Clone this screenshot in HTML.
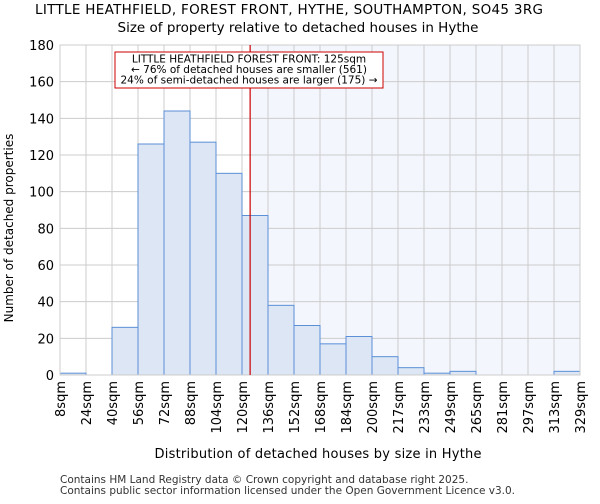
<!DOCTYPE html>
<html><head><meta charset="utf-8"><style>
body{margin:0;background:#fff;font-family:"DejaVu Sans","Liberation Sans",sans-serif;}
</style></head><body>
<svg width="600" height="500" xmlns="http://www.w3.org/2000/svg" font-family="DejaVu Sans, Liberation Sans, sans-serif">
<text x="289" y="14" font-size="13.5" text-anchor="middle" textLength="508">LITTLE HEATHFIELD, FOREST FRONT, HYTHE, SOUTHAMPTON, SO45 3RG</text>
<text x="298" y="32" font-size="13.5" text-anchor="middle">Size of property relative to detached houses in Hythe</text>
<g id="plot"></g>
<text x="318" y="458" font-size="13" text-anchor="middle" textLength="327">Distribution of detached houses by size in Hythe</text>
<text transform="translate(13,228) rotate(-90)" font-size="12" text-anchor="middle">Number of detached properties</text>
<text x="60" y="483" font-size="10.5" fill="#333">Contains HM Land Registry data © Crown copyright and database right 2025.</text>
<text x="60" y="494" font-size="10.5" fill="#333" textLength="455">Contains public sector information licensed under the Open Government Licence v3.0.</text>
</svg>
<script>
const categories=["8sqm","24sqm","40sqm","56sqm","72sqm","88sqm","104sqm","120sqm","136sqm","152sqm","168sqm","184sqm","200sqm","217sqm","233sqm","249sqm","265sqm","281sqm","297sqm","313sqm","329sqm"];
const counts=[1,0,26,126,144,127,110,87,38,27,17,21,10,4,1,2,0,0,0,2];
const yTicks=[0,20,40,60,80,100,120,140,160,180];
const propertyBinPos=7.3125;
const NS="http://www.w3.org/2000/svg";
const g=document.getElementById('plot');
const X0=60,X1=580,Y0=375,Y1=45;
const bw=(X1-X0)/counts.length;
const x=i=>X0+i*bw;
const y=v=>Y0-(v/180)*(Y0-Y1);
function mk(t,a){const e=document.createElementNS(NS,t);for(const k in a)e.setAttribute(k,a[k]);g.appendChild(e);return e;}
const lx=x(propertyBinPos);
let e=mk('rect',{x:lx,y:Y1,width:X1-lx,height:Y0-Y1,fill:'#f3f6fd'});


yTicks.forEach(t=>{
 let l=mk('line',{x1:X0,x2:X1,y1:y(t),y2:y(t),stroke:'#ccc'});
 
 
 let tx=mk('text',{x:X0-6,y:y(t)+5,'font-size':13,'text-anchor':'end'});tx.textContent=t;
 
 
});
categories.forEach((c,i)=>{
 let l=mk('line',{x1:x(i),x2:x(i),y1:Y1,y2:Y0,stroke:'#ccc'});
 
 
 let tx=mk('text',{transform:`translate(${x(i)+5},${Y0+6}) rotate(-90)`,'font-size':13,'text-anchor':'end'});tx.textContent=c;
 
 
});
counts.forEach((v,i)=>{
 if(v<=0)return;
 let r=mk('rect',{x:x(i),y:y(v),width:bw,height:Y0-y(v),fill:'#dce6f4',stroke:'#5b8fd6','stroke-width':1});
 
 
});
e=mk('rect',{x:X0,y:Y1,width:X1-X0,height:Y0-Y1,fill:'none',stroke:'#ccc'});


e=mk('line',{x1:lx,x2:lx,y1:Y1,y2:Y0,stroke:'#cc0000','stroke-width':1.2});


e=mk('rect',{x:115,y:52,width:268,height:36,fill:'#fff',stroke:'#cc0000'});


["LITTLE HEATHFIELD FOREST FRONT: 125sqm","← 76% of detached houses are smaller (561)","24% of semi-detached houses are larger (175) →"].forEach((s,k)=>{
 let t=mk('text',{x:249,y:62.5+k*10.5,'font-size':10.5,'text-anchor':'middle'});t.textContent=s;
 
 
});
</script>
</body></html>
